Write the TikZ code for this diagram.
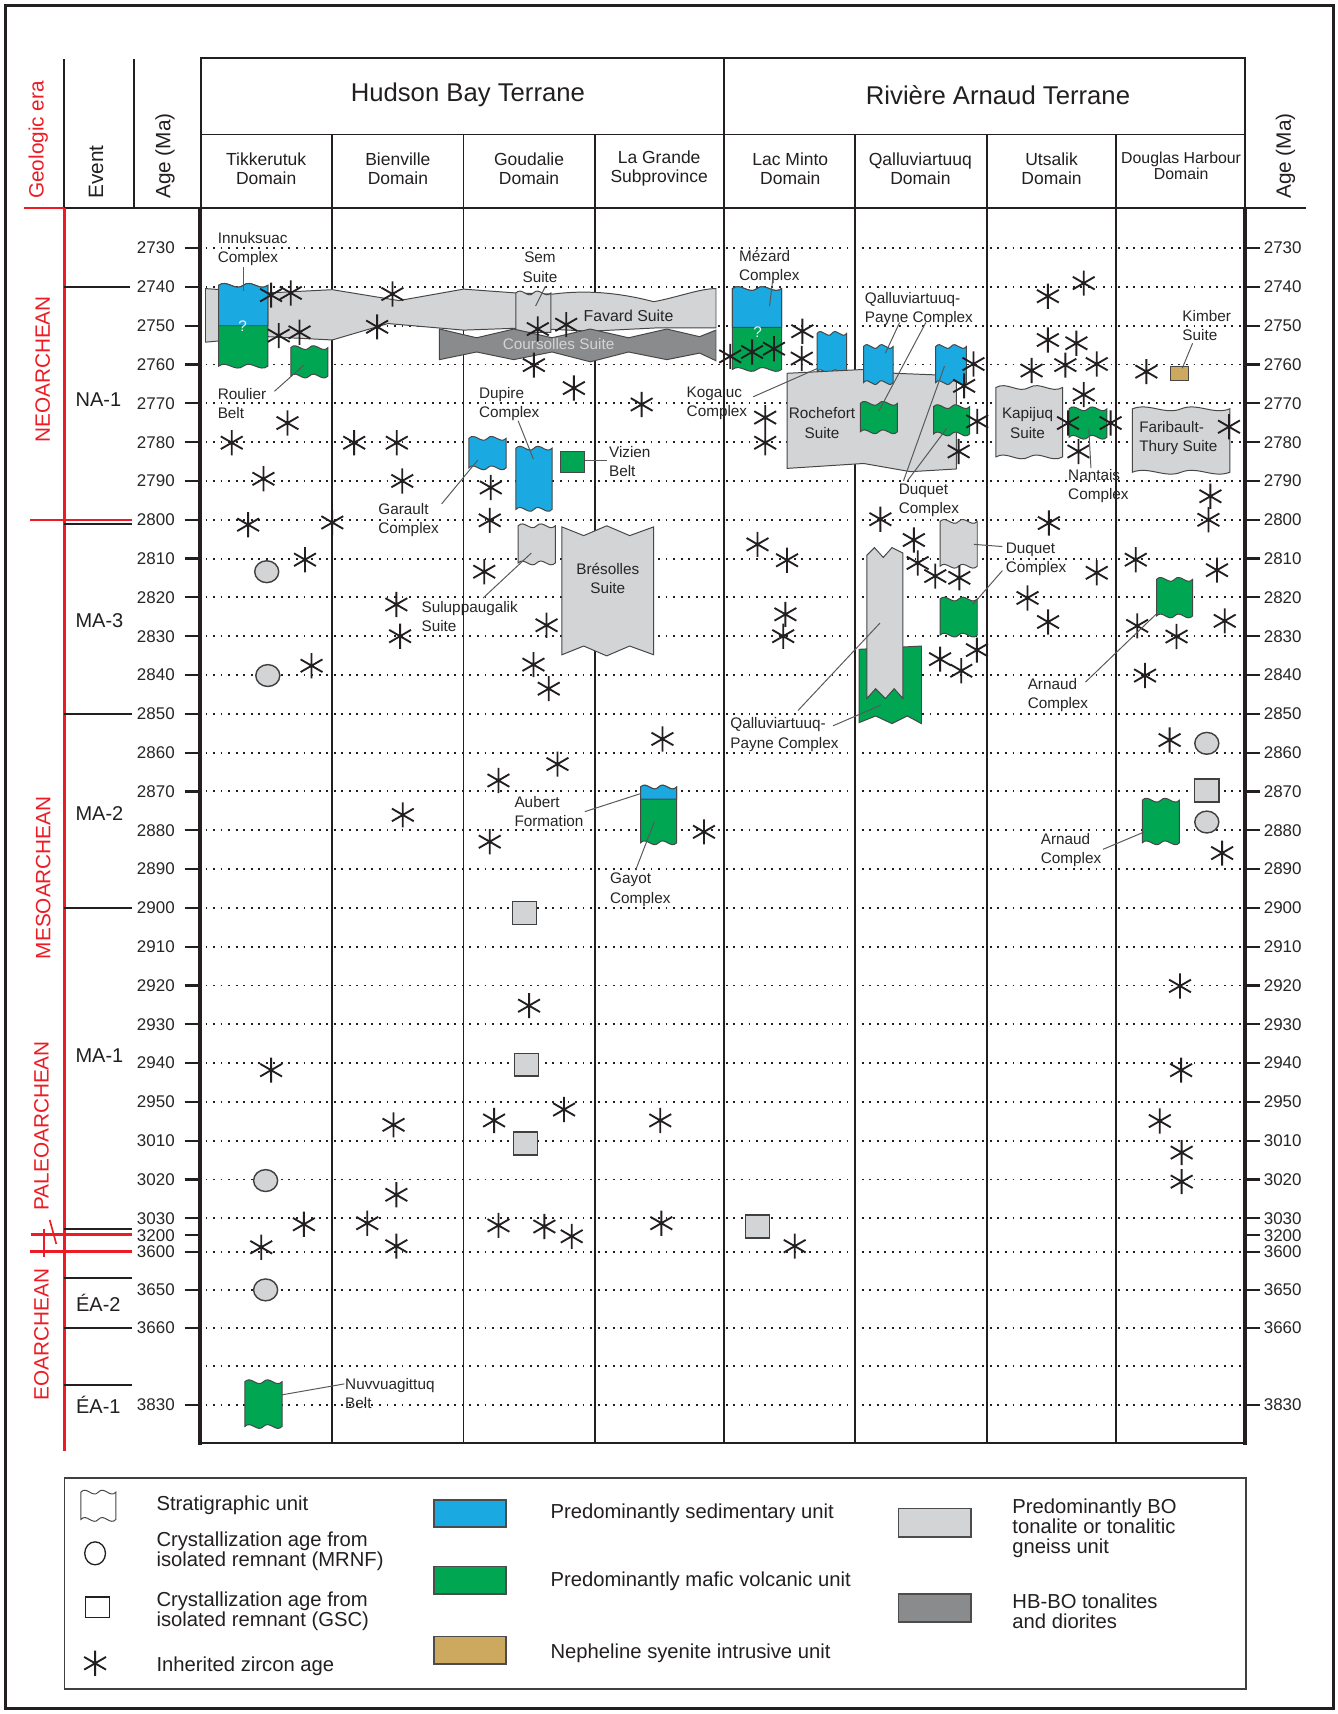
\documentclass[tikz,border=0pt]{standalone}
\usepackage{fontspec}
\setmainfont{Liberation Sans}
\definecolor{sblue}{RGB}{27,169,225}
\definecolor{vgreen}{RGB}{0,166,81}
\definecolor{lgray}{RGB}{211,212,214}
\definecolor{dgray}{RGB}{138,139,141}
\definecolor{tanc}{RGB}{205,168,95}
\definecolor{era}{RGB}{237,28,36}
\definecolor{ink}{RGB}{35,31,32}
\newcommand{\wa}{6}
\newcommand{\wbox}[5]{%
  \pgfmathsetmacro{\wbxm}{(#1+#3)/2}%
  \pgfmathsetmacro{\wbc}{(#3-#1)/6}%
  \filldraw[unit,fill=#5] (#1,#2)
   .. controls +(\wbc,-\wa) and +(-\wbc,\wa) .. (\wbxm,#2)
   .. controls +(\wbc,-\wa) and +(-\wbc,\wa) .. (#3,#2)
   -- (#3,#4)
   .. controls +(-\wbc,\wa) and +(\wbc,-\wa) .. (\wbxm,#4)
   .. controls +(-\wbc,\wa) and +(\wbc,-\wa) .. (#1,#4) -- cycle;}
\newcommand{\wtop}[5]{%
  \pgfmathsetmacro{\wbxm}{(#1+#3)/2}%
  \pgfmathsetmacro{\wbc}{(#3-#1)/6}%
  \filldraw[unit,fill=#5] (#1,#2)
   .. controls +(\wbc,-\wa) and +(-\wbc,\wa) .. (\wbxm,#2)
   .. controls +(\wbc,-\wa) and +(-\wbc,\wa) .. (#3,#2)
   -- (#3,#4) -- (#1,#4) -- cycle;}
\newcommand{\zirc}[2]{\draw[zircline] (#1,#2) ++(0,-11.5) -- ++(0,23)
   (#1,#2) ++(-10,-5.8) -- ++(20,11.6) (#1,#2) ++(-10,5.8) -- ++(20,-11.6);}
\newcommand{\mrnf}[2]{\filldraw[remn] (#1,#2) ellipse [x radius=11, y radius=10];}
\newcommand{\gscsq}[2]{\filldraw[remn] (#1,#2) ++(-11,-10.5) rectangle ++(22,21);}
\tikzset{
  unit/.style={draw=black!72, line width=0.9pt},
  zircline/.style={draw=ink, line width=1.7pt},
  remn/.style={fill=lgray, draw=black!75, line width=1.3pt},
  dotrow/.style={draw=ink, line width=1.7pt, dash pattern=on 1.7pt off 5.2pt},
  colline/.style={draw=ink, line width=1.6pt},
  axisline/.style={draw=ink, line width=3pt},
  tickline/.style={draw=ink, line width=2pt},
  leader/.style={draw=black!65, line width=0.9pt},
  lbl/.style={font=\fontsize{14}{17.5}\selectfont, align=left, anchor=west, inner sep=0pt, text=black!85},
  clbl/.style={font=\fontsize{14}{17.5}\selectfont, align=center, inner sep=0pt, text=black!85},
  agel/.style={font=\fontsize{15.5}{16}\selectfont, inner sep=0pt, text=black!85},
  dom/.style={font=\fontsize{16}{17.5}\selectfont, align=center, inner sep=0pt, text=ink},
  terr/.style={font=\fontsize{23.5}{26}\selectfont, inner sep=0pt, text=ink},
  rothead/.style={font=\fontsize{19}{20}\selectfont, rotate=90, anchor=west, inner sep=0pt, text=ink},
  eralbl/.style={font=\fontsize{19}{20}\selectfont, rotate=90, inner sep=0pt, text=era},
  evlbl/.style={font=\fontsize{18.3}{20}\selectfont, inner sep=0pt, text=ink},
  leglbl/.style={font=\fontsize{18.5}{18.3}\selectfont, align=left, anchor=west, inner sep=0pt, text=ink},
  legsw/.style={draw=black!70, line width=1.5pt},
  redline/.style={draw=era, line width=2.5pt},
  evline/.style={draw=ink, line width=2pt}
}
\begin{document}
\begin{tikzpicture}[x=1pt,y=-1pt]
\useasboundingbox (0,0) rectangle (1224,1568);
\fill[white] (0,0) rectangle (1224,1568);
\draw[line width=3pt, draw=ink] (5,5) rectangle (1220,1563);

% ---------- dotted age rows ----------
\foreach \yy in {227,262.5,298,333.5,369,404.5,440,475.5,511,546.5,582,617.5,653,688.5,724,759.5,795,830.5,866,901.5,937,972.5,1008,1043.5,1079,1114.5,1145,1180,1215,1250,1285}
  \draw[dotrow] (188,\yy) -- (1136,\yy);

% ---------- age labels and ticks ----------
\foreach \yy/\aa in {227/2730,262.5/2740,298/2750,333.5/2760,369/2770,404.5/2780,440/2790,475.5/2800,511/2810,546.5/2820,582/2830,617.5/2840,653/2850,688.5/2860,724/2870,759.5/2880,795/2890,830.5/2900,866/2910,901.5/2920,937/2930,972.5/2940,1008/2950,1043.5/3010,1079/3020,1114.5/3030,1130/3200,1145/3600,1180/3650,1215/3660,1285/3830}{
  \draw[tickline] (169,\yy) -- (183,\yy);
  \draw[tickline] (1139,\yy) -- (1153,\yy);
  \node[agel, anchor=east] (L\aa) at (160,\yy) {\aa};
  \node[agel, anchor=west] (R\aa) at (1156,\yy) {\aa};
}

% ---------- header ----------
\draw[line width=1.6pt, draw=ink] (184,53) rectangle (1139,190);
\draw[line width=1.6pt, draw=ink] (184,123) -- (1139,123);
\draw[line width=1.6pt, draw=ink] (662,53) -- (662,123);
\foreach \xx in {304,424,544,662,782,903,1021}
  \draw[colline] (\xx,123) -- (\xx,190);
\draw[line width=2.5pt, draw=ink] (58.5,54) -- (58.5,190);
\draw[line width=2.5pt, draw=ink] (122.5,54) -- (122.5,190);
\draw[line width=2pt, draw=era] (22,190) -- (59,190);
\draw[line width=2pt, draw=ink] (59,190) -- (1195,190);

\node[terr] (hbt) at (428,87) {Hudson Bay Terrane};
\node[terr] (rat) at (913,87) {Rivière Arnaud Terrane};
\node[dom] (d1) at (243.5,154) {Tikkerutuk\\Domain};
\node[dom] (d2) at (364,154) {Bienville\\Domain};
\node[dom] (d3) at (484,154) {Goudalie\\Domain};
\node[dom] (d4) at (603,154) {La Grande\\Subprovince};
\node[dom] (d5) at (723,154) {Lac Minto\\Domain};
\node[dom] (d6) at (842,154) {Qalluviartuuq\\Domain};
\node[dom] (d7) at (962,154) {Utsalik\\Domain};
\node[dom, font=\fontsize{14.5}{14.5}\selectfont] (d8) at (1080.5,152) {Douglas Harbour\\Domain};

\node[rothead, text=era] (hera) at (35,182) {Geologic era};
\node[rothead] (hev) at (88,182) {Event};
\node[rothead] (hage) at (151,182) {Age (Ma)};
\node[rothead] (hage2) at (1176,182) {Age (Ma)};

% ---------- era / event column ----------
\draw[redline] (59,190) -- (59,1327);
\draw[evline] (59,262.5) -- (119,262.5);
\draw[evline] (59,479) -- (121,479);
\draw[redline] (27,475.6) -- (121,475.6);
\draw[evline] (59,653) -- (121,653);
\draw[evline] (59,830.5) -- (121,830.5);
\draw[evline] (59,1124) -- (121,1124);
\draw[redline] (28,1129) -- (121,1129);
\draw[redline] (27,1145) -- (121,1145);
\draw[draw=era, line width=1.8pt] (40,1124) -- (40,1150);
\draw[draw=era, line width=1.5pt] (45.5,1116) -- (51.5,1138);
\draw[evline] (59,1169) -- (121,1169);
\draw[evline] (59,1215) -- (121,1215);
\draw[evline] (59,1267) -- (121,1267);

\node[eralbl] (eneo) at (39,338) {NEOARCHEAN};
\node[eralbl] (emeso) at (39.5,803) {MESOARCHEAN};
\node[eralbl] (epaleo) at (38,1030) {PALEOARCHEAN};
\node[eralbl] (eeo) at (38,1221) {EOARCHEAN};

\node[evlbl] (na1) at (90,366) {NA-1};
\node[evlbl] (ma3) at (91,568) {MA-3};
\node[evlbl] (ma2) at (91,744.5) {MA-2};
\node[evlbl] (ma1) at (91,966) {MA-1};
\node[evlbl] (ea2) at (90,1192) {ÉA-2};
\node[evlbl] (ea1) at (90,1285) {ÉA-1};

% ---------- chart frame ----------
\foreach \xx in {304,424,544,662,782,903,1021}
  \draw[colline] (\xx,190) -- (\xx,1320);
\draw[axisline] (183,190) -- (183,1321.5);
\draw[axisline] (1139,190) -- (1139,1321.5);
\draw[line width=2pt, draw=ink] (183,1320) -- (1139,1320);

% ---------- Favard / Sem / Coursolles ----------
\filldraw[unit, fill=lgray] (188,264) -- (245,268) -- (304,265) -- (365,275) -- (424,264.5) -- (472,268) -- (506,269)
   .. controls (530,266) and (560,266) .. (598,276) .. controls (620,272) and (640,264) .. (655,264)
   -- (655,300) -- (600,300) -- (540,303) -- (480,300) -- (424,302) -- (355,296) -- (304,311) -- (245,308) -- (188,313) -- cycle;
\wtop{472}{268}{504}{304}{lgray}
\filldraw[unit, fill=dgray] (402,301) -- (436,309) -- (470,301) -- (505,309) -- (540,301) -- (575,309) -- (610,301) -- (640,308) -- (655,302) -- (655,330) -- (640,323) -- (610,329) -- (575,322) -- (540,331) -- (505,322) -- (470,329) -- (436,322) -- (402,329) -- cycle;
\node[clbl, font=\fontsize{14.5}{16}\selectfont] (favard) at (575,289) {Favard Suite};
\node[clbl, text=lgray] (coursol) at (511,315) {Coursolles Suite};

% ---------- Hudson Bay units ----------
\wbox{200}{261}{245}{335}{vgreen}
\wtop{200}{261}{245}{298}{sblue}
\node[clbl, text=white!90!sblue] (q1) at (222,298) {?};
\wbox{266}{318}{300}{344}{vgreen}
\wbox{429}{401}{463}{428}{sblue}
\wbox{472}{410}{505}{466}{sblue}
\filldraw[unit, fill=vgreen] (513,413) rectangle (535,432);
\wbox{474}{481}{508}{515}{lgray}
\filldraw[unit, fill=lgray] (514,482) -- (534,490) -- (555,481) -- (576,490) -- (598,482) -- (598,599) -- (576,591) -- (555,600) -- (534,591) -- (514,599) -- cycle;
\wbox{586}{720}{619}{771}{vgreen}
\wtop{586}{720}{619}{731}{sblue}
\wbox{224}{1264}{258}{1305}{vgreen}

% ---------- Riviere Arnaud units ----------
\wbox{670}{264}{715}{338}{vgreen}
\wtop{670}{264}{715}{299.5}{sblue}
\node[clbl, text=white!90!sblue] (q2) at (693,304) {?};
\wbox{747.5}{305}{774.5}{340}{sblue}
\filldraw[unit, fill=lgray] (720,341.5) -- (790,338) -- (819,341.5) -- (857,343) -- (875,344) -- (875,429) -- (833,431.5) -- (790,424) -- (720,428.5) -- cycle;
\wbox{790}{317}{817}{350}{sblue}
\wbox{787}{369}{821}{395}{vgreen}
\wbox{856}{317}{884}{350}{sblue}
\wbox{854}{372}{887}{397}{vgreen}
\filldraw[unit, fill=vgreen] (786,594) -- (843,591) -- (843,662) -- (830,655) -- (816,662) -- (801,655) -- (786,661) -- cycle;
\filldraw[unit, fill=lgray] (793,508) -- (800,501) -- (808,510) -- (816,501) -- (826,506) -- (826,639) -- (818,630) -- (810,639) -- (801,630) -- (793,639) -- cycle;
\wbox{860}{477}{894}{518}{lgray}
\wbox{860}{548}{894}{581}{vgreen}
\wbox{911}{354.5}{972}{418}{lgray}
\wbox{978}{374}{1012.6}{400}{vgreen}
\filldraw[unit, fill=tanc] (1071,335) rectangle (1087,348);
\wbox{1036}{374}{1125}{432}{lgray}
\wbox{1058}{530}{1091}{563.5}{vgreen}
\wbox{1045}{732}{1079}{771}{vgreen}

% ---------- inherited zircon ages ----------
\foreach \px/\py in {248/270,266/268,255/307,274/304,263/387,212/405,241/438,227/480,279/512,285/609,248/979,278/1120,239/1141,
  359/269,345/299,324/405,363/405,368/440,304/478,362.6/553,366/582,368.5/745.5,360/1029,362.6/1093,336/1119,362.6/1140,
  492/301,518/297,488.4/334,525/355,449/446,448/476,443/523,500/572,488/608,502/630,510/699,456/714,448/770,484/920,452/1025,516/1015,456/1121,498/1122,523/1131,
  587/370,606/676,644/761,604/1025,605/1119,
  668/326,688/322,708/319,734/303,733.5/328,700/382,700/405,693/498,720/512.5,718.5/562,716.5/582,727/1140,
  890.5/333,882/353,894/385.5,877/413,805.4/475,836/494,839.5/515,855.6/527,877.6/528.6,860/603,879.4/613.6,893.7/594.7,
  958.6/271,991.4/259,958.6/311,984.7/314,943.7/339,974.6/334,1003.3/333,991.4/361,977/387,1016/387,986.6/413,959.5/478.5,940/547,958.8/569,1003.3/524,
  1048.7/340,1124.3/390.4,1107.3/454,1105.5/475.5,1039/512,1113.3/521.6,1040.3/572.6,1120.4/568,1076.3/582.3,1047.5/618,1070/677,1118/780.4,1079.5/902,1080.5/979,1061/1025.5,1081/1054.4,1081/1081}
  {\zirc{\px}{\py}}

% ---------- isolated remnants ----------
\foreach \px/\py in {244/523,245/618,243/1080,243/1180,1104/680,1104/752} {\mrnf{\px}{\py}}
\foreach \px/\py in {480/835,481.5/974,480.5/1046,693/1122,1104/723} {\gscsq{\px}{\py}}

% ---------- unit labels ----------
\node[lbl] (linn) at (199,227.5) {Innuksuac\\Complex};
\node[lbl] (lrou) at (199,369.5) {Roulier\\Belt};
\node[clbl] (lsem) at (494,244.5) {Sem\\Suite};
\node[lbl] (lgar) at (346,475.5) {Garault\\Complex};
\node[lbl] (ldup) at (438,370) {Dupire\\Complex};
\node[lbl] (lviz) at (557,422.5) {Vizien\\Belt};
\node[lbl] (lsul) at (385.5,564) {Suluppaugalik\\Suite};
\node[clbl] (lbre) at (556,529.5) {Brésolles\\Suite};
\node[lbl] (laub) at (470.5,742.5) {Aubert\\Formation};
\node[lbl] (lgay) at (558,814) {Gayot\\Complex};
\node[lbl] (lnuv) at (315.6,1275) {Nuvvuagittuq\\Belt};
\node[lbl] (lmez) at (676,244) {Mézard\\Complex};
\node[lbl] (lkog) at (628,369) {Kogaluc\\Complex};
\node[clbl] (lroc) at (752,387) {Rochefort\\Suite};
\node[lbl] (lqp1) at (791,282.5) {Qalluviartuuq-\\Payne Complex};
\node[lbl] (lduq1) at (822,457.5) {Duquet\\Complex};
\node[lbl] (lqp2) at (668,672) {Qalluviartuuq-\\Payne Complex};
\node[lbl] (lduq2) at (920,512) {Duquet\\Complex};
\node[clbl] (lkap) at (940,387) {Kapijuq\\Suite};
\node[lbl] (lnan) at (977,445) {Nantais\\Complex};
\node[lbl] (lkim) at (1081.5,298) {Kimber\\Suite};
\node[lbl] (lfar) at (1042,401) {Faribault-\\Thury Suite};
\node[lbl] (larn1) at (940,636) {Arnaud\\Complex};
\node[lbl] (larn2) at (952,778) {Arnaud\\Complex};

% ---------- leaders ----------
\foreach \nm/\ax/\ay/\bx/\by in {inn/223/244/223/266, rou/251/358/278/334, sem/499/262/490/280, gar/404/461/437/421,
  dup/474/385/488/420, viz/535/421/555/421, sul/442/547/486/506, aub/535/742.5/586/726, gay/581.5/796/598.5/752,
  nuv/315/1266/258/1276, mez/707/255/704/280, kog/689/363/748/337, qpa/823/295/810/323, qpb/847/295/804/376,
  dqa/826.5/440/864/335, dqb/830/440/866/392, qpc/730/650/805/570, qpd/762/664/806/645,
  dqc/917/500/891/498, dqd/917/522/890/553, nan/998/428/996/392, kim/1091/314/1081.5/337,
  arna/993/624/1057.5/562, arnb/1009/777/1047/761}{
  \coordinate (\nm-a) at (\ax,\ay);
  \coordinate (\nm-b) at (\bx,\by);
  \draw[leader] (\nm-a) -- (\nm-b);
}

% ---------- legend ----------
\draw[line width=1.5pt, draw=black!75] (59,1352) rectangle (1140,1545);
\wbox{74}{1365}{106}{1390}{white}
\draw[draw=ink, line width=1.2pt, fill=white] (87,1421) ellipse [x radius=9.5, y radius=10.5];
\draw[draw=ink, line width=1.2pt, fill=white] (78,1461) rectangle (100,1480);
\zirc{87}{1521.6}
\node[leglbl] (lg1) at (143,1377) {Stratigraphic unit};
\node[leglbl] (lg2) at (143,1419.5) {Crystallization age from\\isolated remnant (MRNF)};
\node[leglbl] (lg3) at (143,1474.4) {Crystallization age from\\isolated remnant (GSC)};
\node[leglbl] (lg4) at (143,1524) {Inherited zircon age};
\filldraw[legsw, fill=sblue] (397,1372) rectangle (463,1397);
\filldraw[legsw, fill=vgreen] (397,1433) rectangle (463,1458);
\filldraw[legsw, fill=tanc] (397,1497) rectangle (463,1522);
\node[leglbl] (lg5) at (503.5,1384.4) {Predominantly sedimentary unit};
\node[leglbl] (lg6) at (503.5,1446.3) {Predominantly mafic volcanic unit};
\node[leglbl] (lg7) at (503.5,1512.5) {Nepheline syenite intrusive unit};
\filldraw[legsw, fill=lgray] (822,1380) rectangle (888,1406);
\filldraw[legsw, fill=dgray] (822,1458) rectangle (888,1484);
\node[leglbl] (lg8) at (926,1398) {Predominantly BO\\tonalite or tonalitic\\gneiss unit};
\node[leglbl] (lg9) at (926,1474.4) {HB-BO tonalites\\and diorites};
\end{tikzpicture}
\end{document}
